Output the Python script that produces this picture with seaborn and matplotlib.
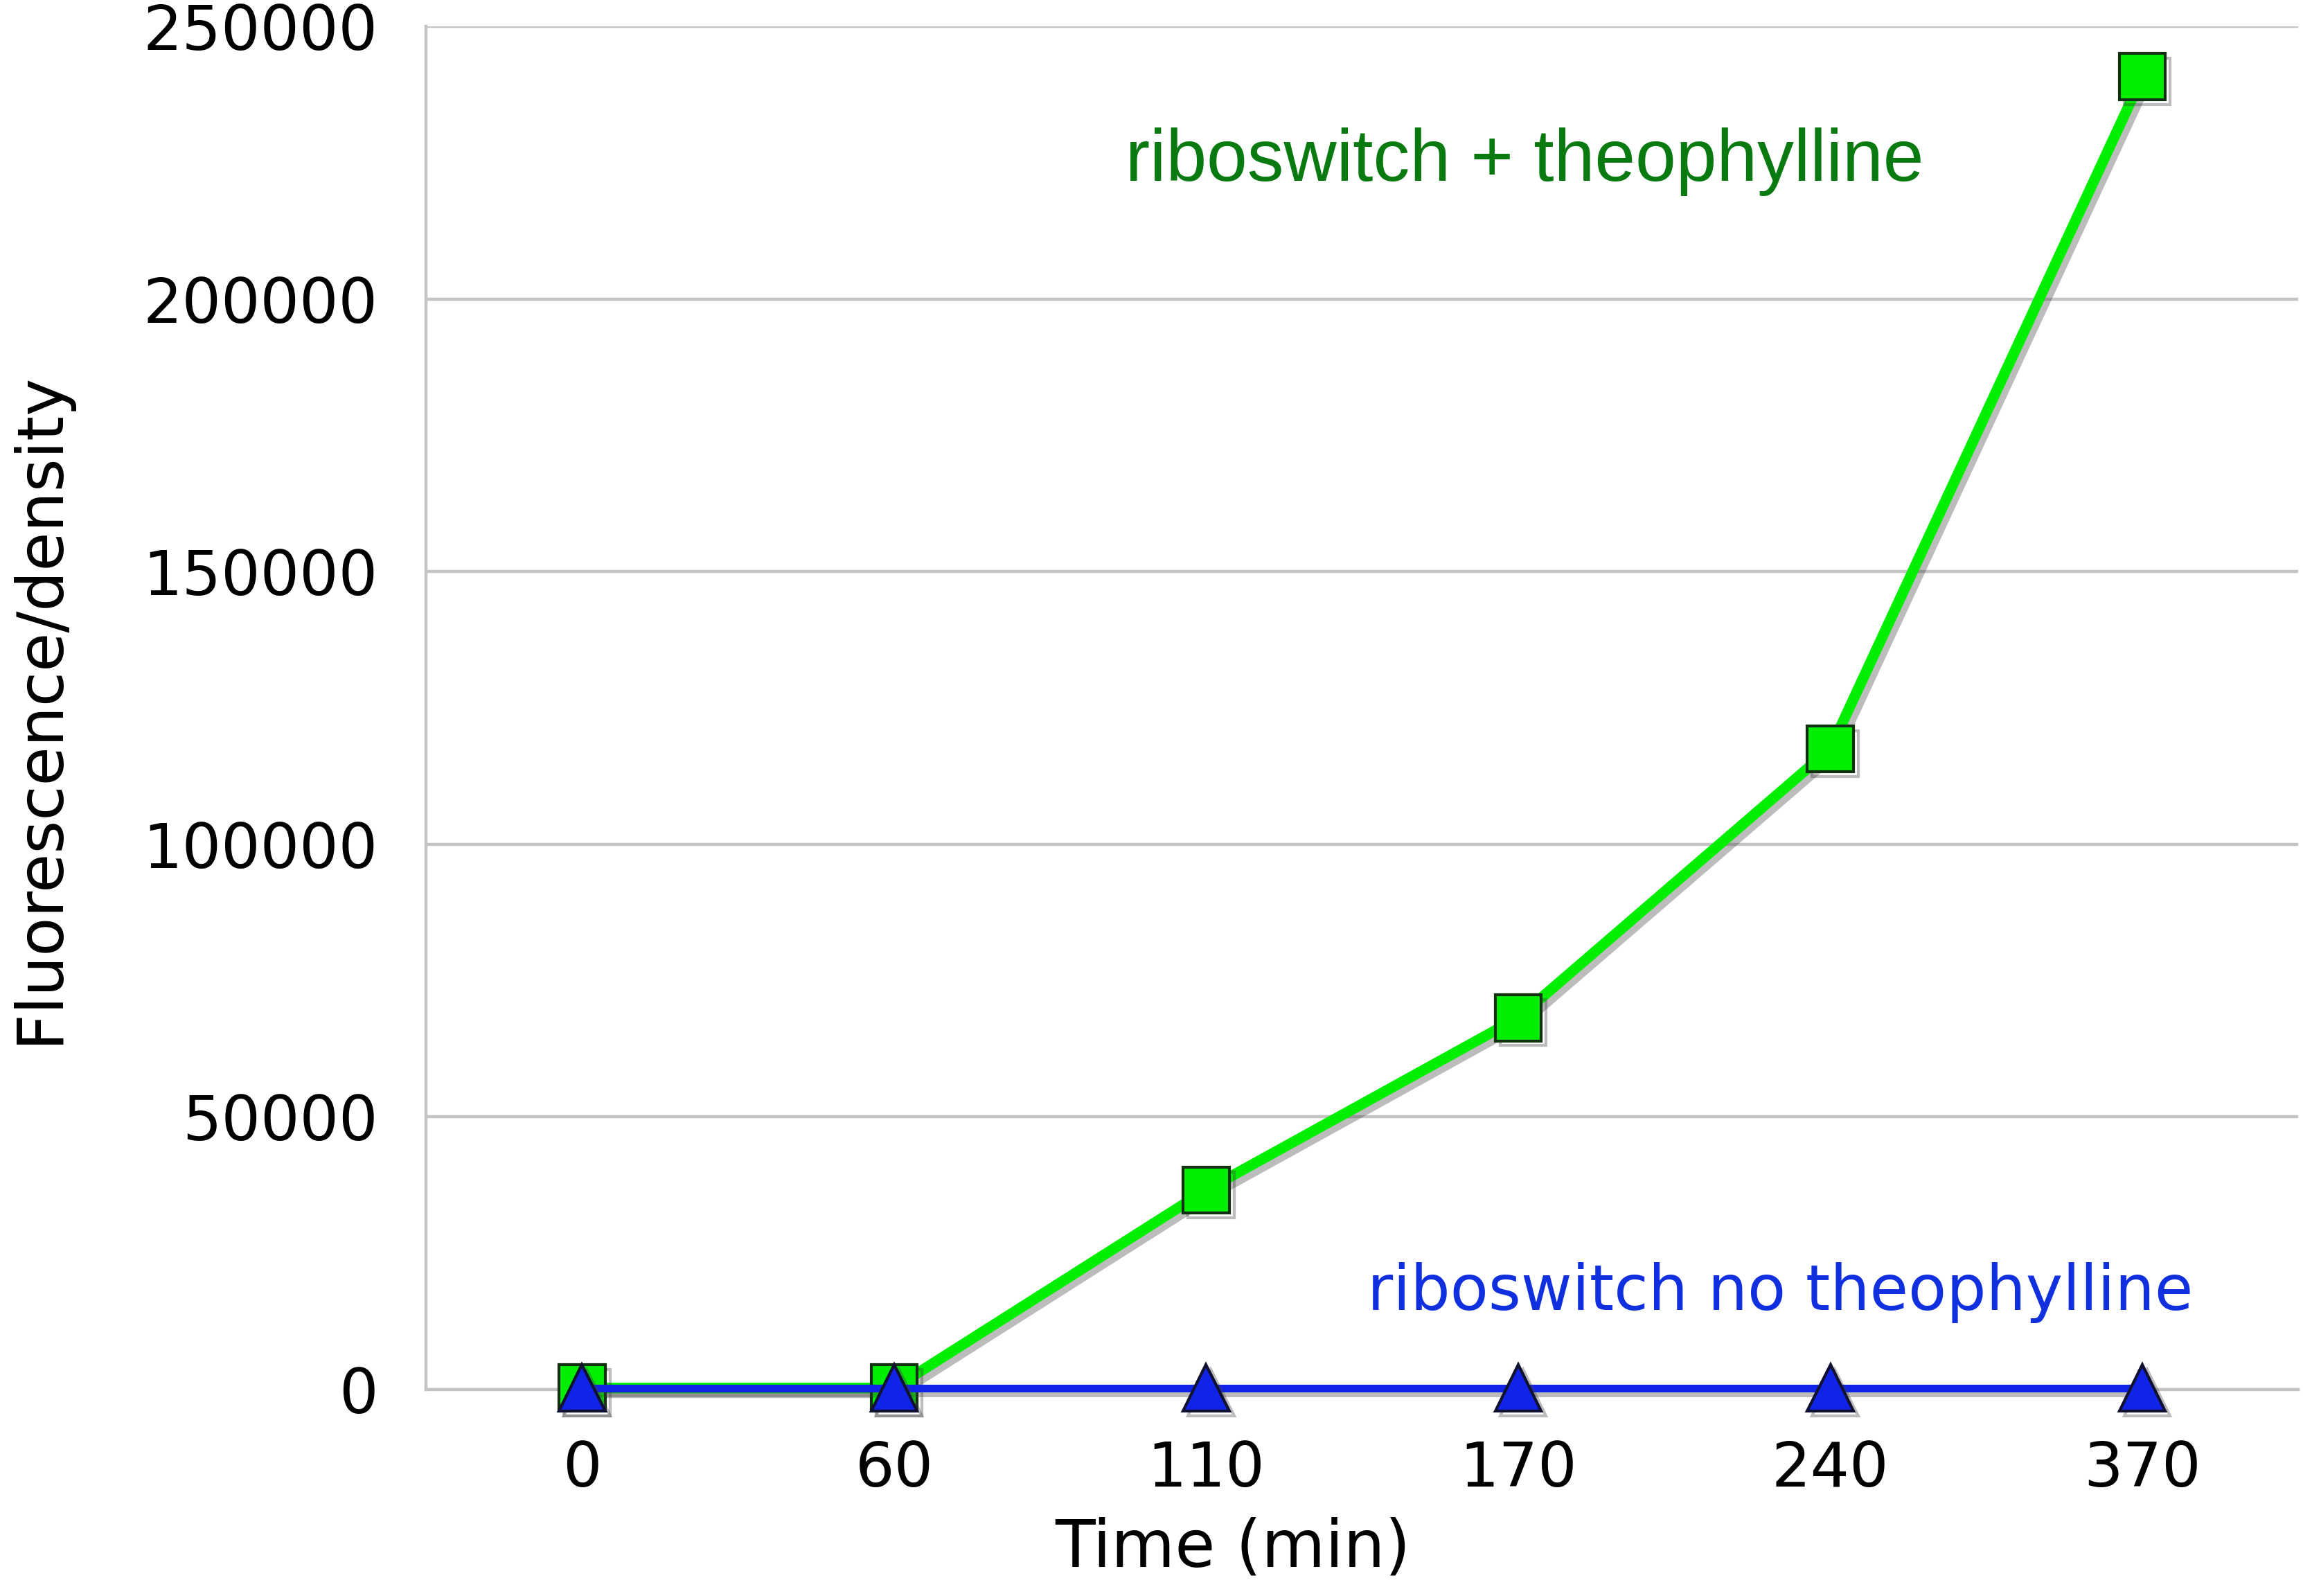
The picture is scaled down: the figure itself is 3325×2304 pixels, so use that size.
import numpy as np
import pandas as pd
import matplotlib
matplotlib.use('Agg')
import matplotlib.pyplot as plt
import matplotlib.patheffects as pe
import seaborn as sns

# Dados
tempos = ['0', '60', '110', '170', '240', '370']
com_teofilina = [300, 300, 36600, 68200, 117500, 240800]
sem_teofilina = [300, 300, 300, 300, 300, 300]

df = pd.DataFrame({
    'pos': list(range(len(tempos))) * 2,
    'valor': com_teofilina + sem_teofilina,
    'serie': ['com'] * len(tempos) + ['sem'] * len(tempos),
})

sns.set_style('white')
plt.rcParams['font.family'] = ['DejaVu Sans']

fig = plt.figure(figsize=(16.625, 11.52), dpi=200)
ax = fig.add_axes([0.185, 0.1293, 0.813, 0.8542])

verde = '#00EE00'
azul = '#1024E8'
cinza = '#C4C4C4'
sombra = [pe.SimpleLineShadow(offset=(2.5, -2.5), alpha=0.35, shadow_color='#404040'), pe.Normal()]

sns.lineplot(data=df[df['serie'] == 'com'], x='pos', y='valor', ax=ax,
             color=verde, linewidth=5.5, marker='s', markersize=24,
             markerfacecolor=verde, markeredgecolor='#103010',
             markeredgewidth=1.5, zorder=3)
sns.lineplot(data=df[df['serie'] == 'sem'], x='pos', y='valor', ax=ax,
             color=azul, linewidth=4, marker='^', markersize=24,
             markerfacecolor=azul, markeredgecolor='#101030',
             markeredgewidth=1.5, zorder=4)

ax.set_xlim(-0.5, len(tempos) - 0.5)
ax.set_ylim(0, 250000)
ax.set_yticks(np.arange(0, 250001, 50000))
ax.set_yticklabels([str(v) for v in range(0, 250001, 50000)], fontsize=32, color='black')
ax.set_xticks(range(len(tempos)))
ax.set_xticklabels(tempos, fontsize=32, color='black')
ax.set_xticks(np.arange(-0.5, len(tempos), 1), minor=True)

ax.tick_params(axis='x', which='major', length=0, pad=26)
ax.tick_params(axis='x', which='minor', length=9, width=1.5, color=cinza, direction='out')
ax.tick_params(axis='y', length=9, width=1.5, color=cinza, pad=16)

ax.grid(axis='y', color=cinza, linewidth=1.6)
ax.grid(axis='x', visible=False)
for s in ['top', 'right']:
    ax.spines[s].set_visible(False)
ax.spines['left'].set_color(cinza)
ax.spines['left'].set_linewidth(1.6)
ax.spines['bottom'].set_color(cinza)
ax.spines['bottom'].set_linewidth(1.6)
for ln in ax.lines:
    ln.set_clip_on(False)
    ln.set_path_effects(sombra)

ax.set_xlabel('Time (min)', fontsize=34, color='black')
ax.xaxis.set_label_coords(0.431, -0.093)
ax.set_ylabel('Fluorescence/density', fontsize=33, color='black')
ax.yaxis.set_label_coords(-0.19, 0.5)

ax.text(3.02, 225200, 'riboswitch + theophylline', color='#087A10',
        fontsize=38, ha='center', va='center', family='Liberation Sans')
ax.text(3.84, 17800, 'riboswitch no theophylline', color='#1030E0',
        fontsize=32.5, ha='center', va='center')

fig.savefig('out.png', dpi=200)
